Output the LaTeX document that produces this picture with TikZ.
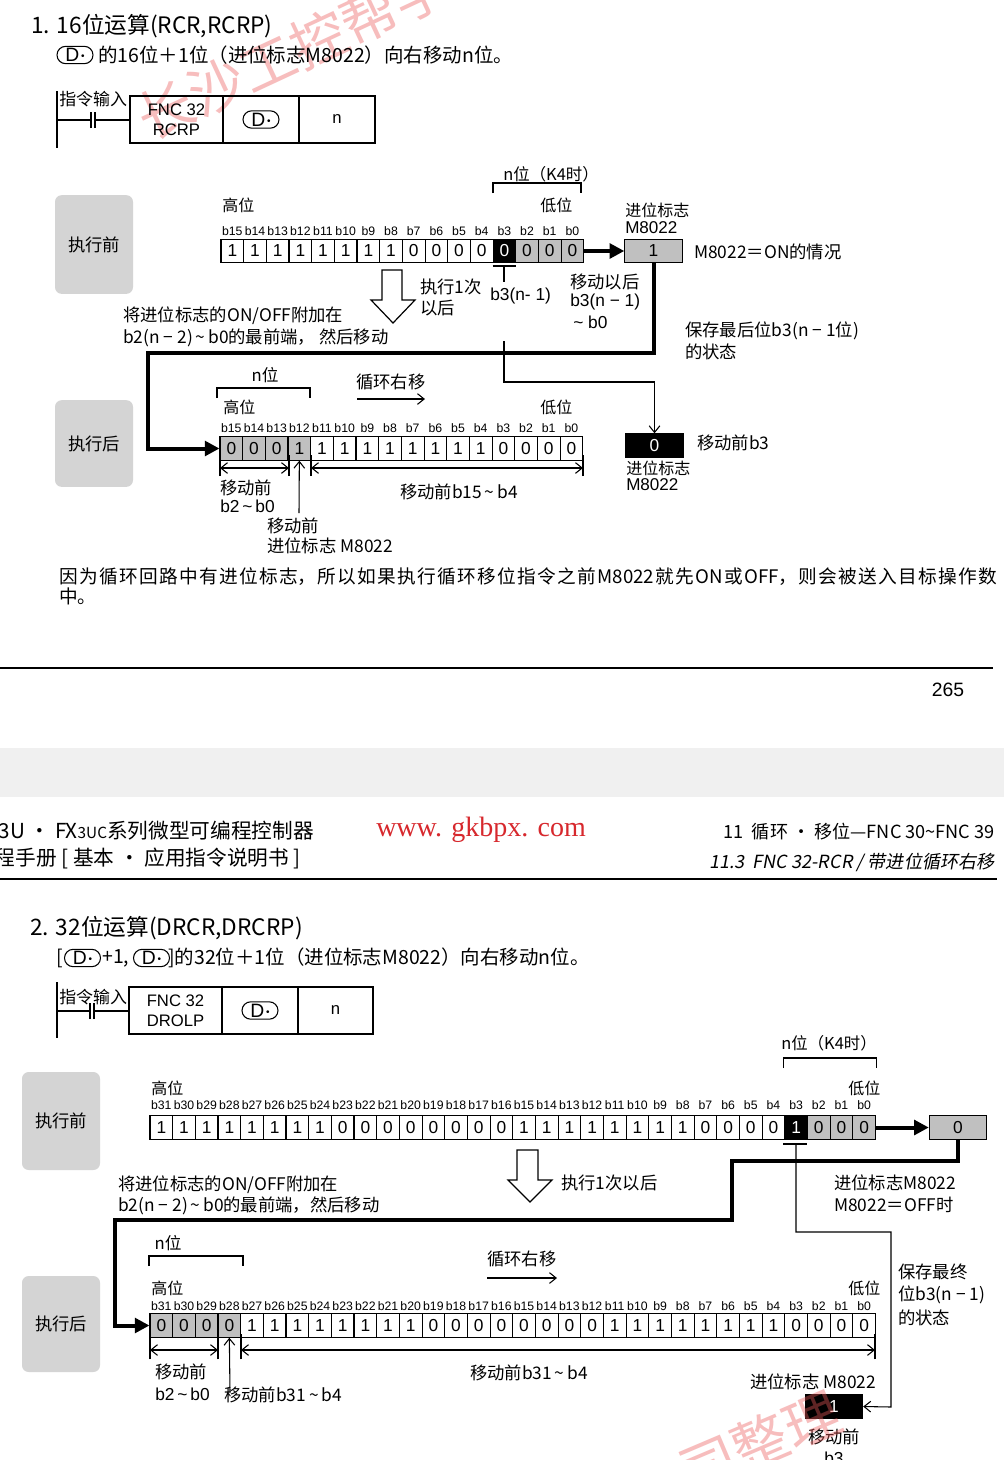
\documentclass[tikz,border=0pt]{standalone}
\usepackage{fontspec}
\setmainfont{Noto Sans CJK SC}
\newfontfamily\lat{Liberation Sans}
\newfontfamily\ser{Liberation Serif}
\newfontfamily\zhit[FakeSlant=0.18]{Noto Sans CJK SC}
\usetikzlibrary{arrows.meta}
\newcommand\fsz[1]{\fontsize{#1}{#1}\selectfont}
\definecolor{cellgray}{RGB}{192,192,192}
\definecolor{exgray}{RGB}{212,212,212}
\definecolor{bandgray}{RGB}{240,240,240}
\definecolor{wmred}{RGB}{235,90,90}
\definecolor{urlred}{RGB}{215,40,45}
\newcommand\dsym{D\hspace{1.5pt}\raisebox{1.5pt}{\fsz{7.5}•}}
\newcommand\tld{\,\textasciitilde\,}
\newcommand\bitrow[4]{%
  \foreach \v/\s [count=\i from 0] in {#4} {
    \node[cell,\s] (#1\i) at ({#2+22.67*\i+11.335},#3) {\v};
  }}
\newcommand\bitlabels[4]{%
  \pgfmathtruncatemacro\nmax{#4-1}%
  \foreach \i in {0,...,\nmax} {
    \pgfmathtruncatemacro\bn{\nmax-\i}
    \node[blab] (#1\i) at ({#2+22.67*\i+11.335},#3) {b\bn};
  }}
\tikzset{
  cell/.style={draw, line width=0.8pt, minimum width=17pt, minimum height=17.5pt, inner sep=0pt, font=\lat\fsz{13}},
  cw/.style={fill=white},
  cg/.style={fill=cellgray},
  ck/.style={fill=black, text=white},
  blab/.style={inner sep=0pt, font=\lat\fsz{9.2}},
  lbl/.style={inner sep=0pt, anchor=west, font=\fsz{13}},
  llat/.style={inner sep=0pt, anchor=west, font=\lat\fsz{13}},
  slbl/.style={inner sep=0pt, anchor=west, font=\fsz{12}},
  exbox/.style={fill=exgray, rounded corners=5pt, minimum width=58.5pt, inner sep=0pt, font=\fsz{13}},
  dsymbox/.style={draw, line width=0.8pt, rounded corners=6.5pt, minimum width=27pt, minimum height=13pt, inner sep=0pt, font=\lat\fsz{14.5}},
  insbox/.style={draw, line width=1pt, minimum height=35.25pt, inner sep=0pt, font=\lat\fontsize{12.5}{15}\selectfont, align=center},
  bigline/.style={line width=3pt},
  bigtip/.style={-{Triangle[length=11pt,width=11pt]}},
  tline/.style={line width=0.8pt},
  barb/.style={-{Straight Barb[length=5pt,width=8pt]}},
  dbarb/.style={{Straight Barb[length=5pt,width=8pt]}-{Straight Barb[length=5pt,width=8pt]}},
  carry/.style={draw, line width=0.8pt, minimum width=43pt, minimum height=17.5pt, inner sep=0pt, font=\lat\fsz{13}},
  ttl/.style={inner sep=0pt, anchor=west, font=\fsz{17}},
  sub/.style={inner sep=0pt, anchor=west, font=\fsz{14.6}},
}
\begin{document}
\begin{tikzpicture}[x=0.75pt,y=-0.75pt,line join=miter]
\useasboundingbox (0,0) rectangle (1004,1460);
\fill[white] (0,0) rectangle (1004,1460);
\fill[bandgray] (0,748) rectangle (1004,797);

% watermark (behind)
\node[rotate=25, text=wmred, opacity=0.4, font=\fsz{42}, inner sep=0pt] (wm1) at (293,51) {长沙工控帮学};

% ================= TOP PAGE =================
\node[ttl] (t1) at (31,26) {1. 16位运算(RCR,RCRP)};
\node[dsymbox] (d1) at (75,55) {\dsym};
\node[sub] (t2) at (98,55) {的16位＋1位（进位标志M8022）向右移动n位。};

% ladder 1
\node[insbox, minimum width=69.75pt] (fb1) at (176.5,119.5) {FNC 32\\RCRP};
\node[insbox, minimum width=57pt] (db1) at (261,119.5) {};
\node[dsymbox] (ds1) at (db1) {\dsym};
\node[insbox, minimum width=57pt] (nb1) at (337,119.5) {n};
\coordinate (r1a) at (57,91);
\coordinate (r1b) at (57,148);
\coordinate (r1c) at (57,120);
\coordinate (k1a) at (91,120);
\coordinate (k1b) at (95,120);
\draw[tline] (r1a) -- (r1b);
\draw[tline] (r1c) -- (k1a);
\draw[tline] ([yshift=-6]k1a) -- ([yshift=6]k1a);
\draw[tline] ([yshift=-6]k1b) -- ([yshift=6]k1b);
\draw[tline] (k1b) -- (fb1.west |- k1b);
\node[slbl, font=\fsz{12.7}] (in1) at (59,99) {指令输入};

% exec boxes
\node[exbox, minimum height=74pt] (ex1) at (94,244.5) {执行前};
\node[exbox, minimum height=65pt] (ex2) at (94,443.5) {执行后};

% before row
\node[slbl] (hi1) at (222,205) {高位};
\node[slbl] (lo1) at (540,205) {低位};
\node[inner sep=0pt, font=\fsz{12.3}] (nk1) at (551,174) {n位（K4时）};
\draw[tline] (493,193) -- (493,183) -- (581,183) -- (581,193);
\bitlabels{AL}{221}{231}{16}
\bitrow{A}{221}{251}{1/cw,1/cw,1/cw,1/cw,1/cw,1/cw,1/cw,1/cw,0/cw,0/cw,0/cw,0/cw,0/ck,0/cg,0/cg,0/cg}
\node[carry, fill=cellgray] (cf1) at (653.5,251) {1};
\node[slbl] (cfl1) at (625,210) {进位标志};
\node[llat, font=\lat\fsz{12.8}] (cfm1) at (625,228) {M8022};
\node[lbl] (on1) at (694,252) {M8022＝ON的情况};
\draw[bigline,bigtip] (A15.east) -- (cf1.west);

% hollow arrow 1
\draw[fill=white, line width=0.9pt] (382,270) -- (402,270) -- (402,300) -- (415,300) -- (393,323) -- (371,300) -- (382,300) -- cycle;
\node[lbl] (ex1a) at (420,287) {执行1次};
\node[lbl] (ex1b) at (420,308) {以后};

% b3 marker
\draw[tline] (A12.south west |- 0,266) -- (A12.south east |- 0,266);
\coordinate (m1a) at (504,266);
\coordinate (m1b) at (504,282);
\draw[tline] (m1a) -- (m1b);
\node[llat] (b3n1) at (490,296) {b3(n- 1)};
\node[lbl] (mv1) at (570,282) {移动以后};
\node[llat] (mv2) at (570,302) {b3(n − 1)};
\node[llat] (mv3) at (573,322) {\textasciitilde\ b0};

\node[lbl] (add1) at (123,316) {将进位标志的ON/OFF附加在};
\node[lbl] (add2) at (123,338) {b2(n − 2)\tld b0的最前端， 然后移动};
\node[lbl] (sv1) at (685,331) {保存最后位b3(n − 1位)};
\node[lbl] (sv2) at (685,352) {的状态};

% after row
\node[inner sep=0pt, font=\fsz{12.5}] (nn1) at (265,375) {n位};
\draw[tline] (217,398) -- (217,388) -- (310,388) -- (310,398);
\node[lbl] (cyc1) at (356,382) {循环右移};
\coordinate (cy1a) at (357,399);
\coordinate (cy1b) at (425,399);
\draw[tline,barb] (cy1a) -- (cy1b);
\node[slbl] (hi2) at (223,407) {高位};
\node[slbl] (lo2) at (540,407) {低位};
\bitlabels{BL}{220}{428}{16}
\bitrow{B}{220}{448.5}{0/cg,0/cg,0/cg,1/cg,1/cw,1/cw,1/cw,1/cw,1/cw,1/cw,1/cw,1/cw,0/cw,0/cw,0/cw,0/cw}
\node[carry, fill=black, text=white] (cf2) at (654.5,445.5) {0};
\node[lbl] (mb3) at (697,443) {移动前b3};
\node[slbl] (cfl2) at (626,468) {进位标志};
\node[llat, font=\lat\fsz{12.8}] (cfm2) at (626,485) {M8022};

% thick loop 1
\coordinate (lp1a) at (148,353);
\draw[bigline,bigtip] (cf1.south) |- (lp1a) |- (B0.west);
% thin line from b3 to carry
\coordinate (th1a) at (504,341);
\coordinate (th1b) at (504,382);
\draw[tline,barb] (th1a) -- (th1b) -| (cf2.north);

% dimension arrows after row
\coordinate (da1) at (220,468);
\coordinate (da2) at (289,468);
\coordinate (da3) at (311,468);
\coordinate (da4) at (583,468);
\foreach \c in {da1,da2,da3,da4} \draw[tline] ([yshift=-6]\c) -- ([yshift=10]\c);
\draw[tline,dbarb] (da1) -- (da2);
\draw[tline,dbarb] (da3) -- (da4);
\coordinate (up1) at (299,513);
\draw[tline,barb] (up1) -- (B3.south);
\node[lbl] (mf1) at (220,488) {移动前};
\node[llat] (mf2) at (220,506) {b2\tld b0};
\node[lbl] (mf3) at (267,526) {移动前};
\node[lbl] (mf4) at (267,546) {进位标志 M8022};
\node[inner sep=0pt, font=\fsz{13}] (mf5) at (459,492) {移动前b15\tld b4};

% paragraph
\node[inner sep=0pt, anchor=north west, text width=703.5pt, align=justify, font=\fontsize{14}{15.5}\selectfont] (para) at (59,567)
 {\XeTeXlinebreaklocale "zh"\XeTeXlinebreakskip=0pt plus 6pt因为循环回路中有进位标志，所以如果执行循环移位指令之前M8022就先ON或OFF，则会被送入目标操作数\linebreak 中。};

\coordinate (hl1a) at (0,668);
\coordinate (hl1b) at (993,668);
\draw[line width=1pt] (hl1a) -- (hl1b);
\node[inner sep=0pt, font=\lat\fsz{14.5}] (pg) at (948,690) {265};

% ================= BOTTOM PAGE HEADER =================
\node[inner sep=0pt, anchor=east, font=\fsz{15.5}] (hd1) at (314,831) {FX3U • FX{\fsz{11.5}3UC}系列微型可编程控制器};
\node[inner sep=0pt, anchor=east, font=\fsz{15.5}] (hd2) at (301,858) {编程手册 [ 基本 • 应用指令说明书 ]};
\node[inner sep=0pt, anchor=west, font=\ser\fsz{21}, text=urlred] (url) at (376,830) {www. gkbpx. com};
\node[inner sep=0pt, anchor=east, font=\fsz{13.6}] (hd3) at (995,832) {11\ \ 循环 • 移位—FNC 30\textasciitilde FNC 39};
\node[inner sep=0pt, anchor=east, font=\zhit\fsz{13.6}] (hd4) at (995,862) {11.3\ \ FNC 32-RCR / 带进位循环右移};
\coordinate (hl2a) at (0,879);
\coordinate (hl2b) at (997,879);
\draw[line width=1pt] (hl2a) -- (hl2b);

% ================= BOTTOM PAGE =================
\node[ttl] (t3) at (30,928) {2. 32位运算(DRCR,DRCRP)};
\node[sub] (t4a) at (56,958) {[};
\node[dsymbox] (d2) at (82.5,958) {\dsym};
\node[sub] (t4b) at (102,958) {+1,};
\node[dsymbox] (d3) at (151.5,958) {\dsym};
\node[sub] (t4c) at (168,958) {]的32位＋1位（进位标志M8022）向右移动n位。};

% ladder 2
\node[insbox, minimum width=69.75pt] (fb2) at (175.5,1010.5) {FNC 32\\DROLP};
\node[insbox, minimum width=57pt] (db2) at (260,1010.5) {};
\node[dsymbox] (ds2) at (db2) {\dsym};
\node[insbox, minimum width=56.25pt] (nb2) at (335.5,1010.5) {n};
\coordinate (r2a) at (57,982);
\coordinate (r2b) at (57,1038);
\coordinate (r2c) at (57,1011);
\coordinate (k2a) at (90,1011);
\coordinate (k2b) at (94,1011);
\draw[tline] (r2a) -- (r2b);
\draw[tline] (r2c) -- (k2a);
\draw[tline] ([yshift=-6]k2a) -- ([yshift=6]k2a);
\draw[tline] ([yshift=-6]k2b) -- ([yshift=6]k2b);
\draw[tline] (k2b) -- (fb2.west |- k2b);
\node[slbl, font=\fsz{12.7}] (in2) at (59,997) {指令输入};

\node[exbox, minimum height=73.5pt] (ex3) at (61,1121) {执行前};
\node[exbox, minimum height=72pt] (ex4) at (61,1324) {执行后};

% before row 32
\node[inner sep=0pt, font=\fsz{12.3}] (nk2) at (829,1043) {n位（K4时）};
\draw[tline] (783.5,1068) -- (783.5,1058) -- (876.5,1058) -- (876.5,1068);
\node[slbl] (hi3) at (151,1088) {高位};
\node[slbl] (lo3) at (848,1088) {低位};
\bitlabels{CL}{150}{1105}{32}
\bitrow{C}{150}{1127.5}{1/cw,1/cw,1/cw,1/cw,1/cw,1/cw,1/cw,1/cw,0/cw,0/cw,0/cw,0/cw,0/cw,0/cw,0/cw,0/cw,1/cw,1/cw,1/cw,1/cw,1/cw,1/cw,1/cw,1/cw,0/cw,0/cw,0/cw,0/cw,1/ck,0/cg,0/cg,0/cg}
\node[carry, fill=cellgray] (cf3) at (958,1127.5) {0};
\draw[bigline,bigtip] (C31.east) -- (cf3.west);

\draw[fill=white, line width=0.9pt] (517,1150) -- (538,1150) -- (538,1180) -- (552,1180) -- (530,1202) -- (508,1180) -- (517,1180) -- cycle;
\node[lbl] (ex2a) at (561,1183) {执行1次以后};
\node[lbl] (add3) at (118,1185) {将进位标志的ON/OFF附加在};
\node[lbl] (add4) at (118,1206) {b2(n − 2)\tld b0的最前端，然后移动};
\node[lbl] (cfl3) at (834,1183) {进位标志M8022};
\node[lbl] (off1) at (834,1205) {M8022＝OFF时};

% b3 marker 32
\draw[tline] (783,1144) -- (807,1144);
\coordinate (m2a) at (796,1144);
\coordinate (m2b) at (796,1232);
\coordinate (m2c) at (891,1407);
\node[carry, fill=black, text=white] (cf4) at (834,1406.5) {1};
\draw[tline,barb] (m2a) -- (m2b) -| (m2c) -- (cf4.east);

% after row 32
\node[inner sep=0pt, font=\fsz{12.5}] (nn2) at (168,1243) {n位};
\draw[tline] (149,1266) -- (149,1256) -- (243,1256) -- (243,1266);
\node[lbl] (cyc2) at (487,1259) {循环右移};
\coordinate (cy2a) at (487,1278);
\coordinate (cy2b) at (557,1278);
\draw[tline,barb] (cy2a) -- (cy2b);
\node[slbl] (hi4) at (151,1288) {高位};
\node[slbl] (lo4) at (848,1288) {低位};
\node[lbl] (sv3) at (898,1272) {保存最终};
\node[lbl] (sv4) at (898,1295) {位b3(n − 1)};
\node[lbl] (sv5) at (898,1318) {的状态};
\bitlabels{DL}{150}{1306}{32}
\bitrow{D}{150}{1325.5}{0/cg,0/cg,0/cg,0/cg,1/cw,1/cw,1/cw,1/cw,1/cw,1/cw,1/cw,1/cw,0/cw,0/cw,0/cw,0/cw,0/cw,0/cw,0/cw,0/cw,1/cw,1/cw,1/cw,1/cw,1/cw,1/cw,1/cw,1/cw,0/cw,0/cw,0/cw,0/cw}

% thick loop 2
\coordinate (lp2a) at (732,1161);
\coordinate (lp2b) at (115,1220);
\draw[bigline,bigtip] (cf3.south) |- (lp2a) |- (lp2b) |- (D0.west);

\coordinate (db1a) at (150,1350);
\coordinate (db1b) at (218,1350);
\coordinate (db1c) at (241,1350);
\coordinate (db1d) at (875,1350);
\foreach \c in {db1a,db1b,db1c,db1d} \draw[tline] ([yshift=-7]\c) -- ([yshift=12]\c);
\draw[tline,dbarb] (db1a) -- (db1b);
\draw[tline,dbarb] (db1c) -- (db1d);
\coordinate (up2) at (230,1392);
\draw[tline,barb] (up2) -- (D3.south);
\node[lbl] (mf6) at (155,1372) {移动前};
\node[llat] (mf7) at (155,1394) {b2\tld b0};
\node[lbl] (mf8) at (224,1395) {移动前b31\tld b4};
\node[inner sep=0pt, font=\fsz{13}] (mf9) at (529,1373) {移动前b31\tld b4};
\node[lbl] (cfl4) at (750,1382) {进位标志 M8022};
\node[lbl] (mb4) at (808,1437) {移动前};
\node[llat] (mb5) at (824,1458) {b3};

% watermark
\node[rotate=23, text=wmred, opacity=0.4, font=\fsz{42}, inner sep=0pt] (wm2) at (760,1442) {司整理};
\end{tikzpicture}
\end{document}
